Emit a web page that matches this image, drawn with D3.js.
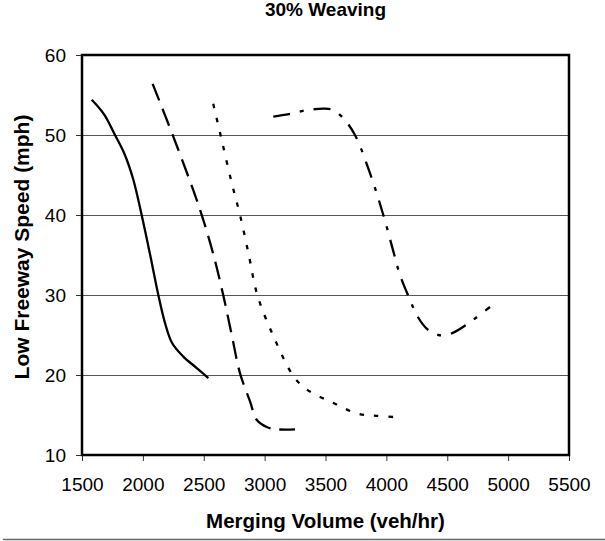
<!DOCTYPE html>
<html>
<head>
<meta charset="utf-8">
<script src="https://cdn.jsdelivr.net/npm/d3@7"></script>
<style>
  html, body { margin: 0; padding: 0; background: #fff; }
  svg { display: block; font-family: "Liberation Sans", Arial, sans-serif; }
</style>
</head>
<body>
<svg id="chart" width="605" height="541"></svg>
<script>
// ---- Data ----
const chartTitle = "30% Weaving";
const xTitle = "Merging Volume (veh/hr)";
const yTitle = "Low Freeway Speed (mph)";
const xTicks = [1500, 2000, 2500, 3000, 3500, 4000, 4500, 5000, 5500];
const yTicks = [10, 20, 30, 40, 50, 60];

const solidVol = [1580, 1680, 1771, 1850, 1920, 1990, 2060, 2127, 2180, 2240, 2332, 2440, 2538];
const solidSpd = [54.4, 52.6, 50.0, 47.6, 44.5, 40.0, 35.0, 30.0, 26.6, 24.0, 22.3, 20.9, 19.6];

const dashVol = [2080, 2250, 2414, 2496, 2580, 2660, 2730, 2798, 2880, 2935, 3017, 3111, 3250];
const dashSpd = [56.4, 49.8, 43.1, 39.4, 35.0, 30.0, 25.0, 20.2, 16.7, 14.4, 13.5, 13.2, 13.2];

const dotVol = [2578, 2647, 2730, 2798, 2870, 2940, 3071, 3235, 3345, 3565, 3757, 3921, 4112];
const dotSpd = [53.9, 49.4, 44.0, 40.0, 35.0, 30.0, 24.9, 19.9, 18.2, 16.5, 15.2, 14.9, 14.7];

const dashDotVol = [3071, 3200, 3345, 3496, 3564, 3646, 3742, 3866, 3975, 4060, 4112, 4194, 4249, 4331, 4427, 4536, 4659, 4851];
const dashDotSpd = [52.3, 52.6, 53.1, 53.3, 53.1, 52.1, 50.0, 45.2, 40.0, 35.3, 32.5, 29.4, 27.5, 25.8, 25.0, 25.2, 26.3, 28.5];

const seriesList = [
  { vol: solidVol, spd: solidSpd, dash: null },
  { vol: dashVol, spd: dashSpd, dash: "18,9" },
  { vol: dotVol, spd: dotSpd, dash: "4.5,10" },
  { vol: dashDotVol, spd: dashDotSpd, dash: "17,10,4,10" }
];

// ---- Layout ----
const svg = d3.select("#chart");
const plot = { left: 82, right: 569, top: 55, bottom: 455 };

const x = d3.scaleLinear().domain([1500, 5500]).range([plot.left, plot.right]);
const y = d3.scaleLinear().domain([10, 60]).range([plot.bottom, plot.top]);

// gridlines
svg.append("g")
  .selectAll("line")
  .data(yTicks.filter(t => t > 10 && t < 60))
  .join("line")
  .attr("x1", plot.left).attr("x2", plot.right)
  .attr("y1", d => y(d)).attr("y2", d => y(d))
  .attr("stroke", "#555").attr("stroke-width", 1).attr("shape-rendering", "crispEdges");

// axes
const yAxis = d3.axisLeft(y).tickValues(yTicks).tickSize(6).tickPadding(10).tickFormat(d3.format("d"));
const gy = svg.append("g").attr("transform", `translate(${plot.left},0)`).call(yAxis);
gy.select(".domain").remove();
gy.selectAll("line").attr("stroke", "#333");
gy.selectAll("text").attr("font-size", "19px").attr("fill", "#000")
  .attr("font-family", "'Liberation Sans', Arial, sans-serif");

const xAxis = d3.axisBottom(x).tickValues(xTicks).tickSize(6).tickPadding(17).tickFormat(d3.format("d"));
const gx = svg.append("g").attr("transform", `translate(0,${plot.bottom})`).call(xAxis);
gx.select(".domain").remove();
gx.selectAll("line").attr("stroke", "#333");
gx.selectAll("text").attr("font-size", "19px").attr("fill", "#000")
  .attr("font-family", "'Liberation Sans', Arial, sans-serif");

// frame
svg.append("rect")
  .attr("x", plot.left).attr("y", plot.top)
  .attr("width", plot.right - plot.left).attr("height", plot.bottom - plot.top)
  .attr("fill", "none").attr("stroke", "#000").attr("stroke-width", 2.5);

// curves
const line = d3.line()
  .x(d => x(d[0])).y(d => y(d[1]))
  .curve(d3.curveCatmullRom.alpha(0.5));

seriesList.forEach(s => {
  const pts = s.vol.map((v, i) => [v, s.spd[i]]);
  const p = svg.append("path")
    .attr("d", line(pts))
    .attr("fill", "none")
    .attr("stroke", "#000")
    .attr("stroke-width", 2.3);
  if (s.dash) p.attr("stroke-dasharray", s.dash);
});

// titles
const cx = (plot.left + plot.right) / 2;
svg.append("text")
  .attr("x", cx).attr("y", 16)
  .attr("text-anchor", "middle")
  .attr("font-weight", "bold").attr("font-size", "19px")
  .text(chartTitle);

svg.append("text")
  .attr("x", cx).attr("y", 528)
  .attr("text-anchor", "middle")
  .attr("font-weight", "bold").attr("font-size", "20.5px")
  .text(xTitle);

svg.append("text")
  .attr("transform", `translate(28.5,${(plot.top + plot.bottom) / 2 - 8}) rotate(-90)`)
  .attr("text-anchor", "middle")
  .attr("font-weight", "bold").attr("font-size", "21px")
  .text(yTitle);

// bottom rule
svg.append("line")
  .attr("x1", 3).attr("x2", 605)
  .attr("y1", 539.5).attr("y2", 539.5)
  .attr("stroke", "#666").attr("stroke-width", 1.5);
</script>
</body>
</html>
